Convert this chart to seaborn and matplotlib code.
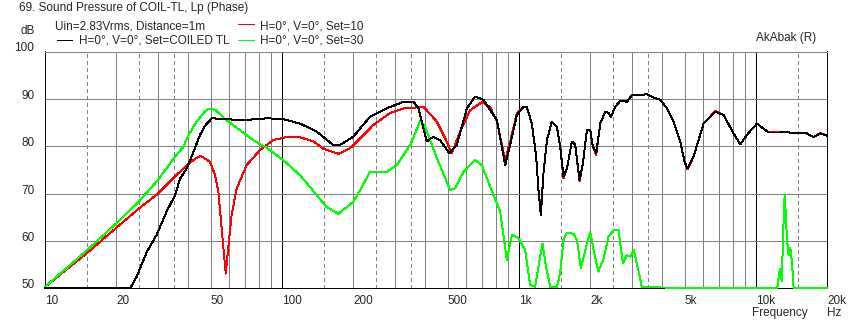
import matplotlib.pyplot as plt
import seaborn as sns
from matplotlib.lines import Line2D

# ---------------- data ----------------
black_f = [10, 22.9, 24.4, 26.9, 29.6, 32.6, 35.4, 37.2, 39.6, 42.3, 45.1, 47.3, 50.6, 58.4, 68.6,
           86.6, 101, 119, 140, 164, 176, 200, 214, 235, 277, 326, 359, 377, 408, 435, 464, 509,
           547, 603, 653, 708, 807, 875, 918, 980, 1045, 1079, 1133, 1182, 1208, 1237, 1269, 1312,
           1376, 1445, 1492, 1541, 1594, 1672, 1727, 1801, 1861, 1935, 1998, 2051, 2118, 2203, 2312,
           2388, 2443, 2547, 2675, 2855, 2997, 3248, 3467, 3700, 3950, 4210, 4490, 4713, 4791, 4997,
           5140, 5454, 6012, 6733, 7300, 8044, 8586, 9162, 10100, 11300, 12663, 13300, 14890, 16140,
           17500, 18680, 20000]
black_db = [50, 50, 52.5, 57.7, 61.3, 66.2, 69.7, 73.2, 75.3, 78.8, 82.4, 84.3, 85.9, 85.7, 85.5,
            85.9, 85.7, 84.8, 83.1, 80.3, 80.3, 82.0, 83.8, 86.2, 88.0, 89.4, 89.4, 88.0, 81.0, 82.0,
            81.3, 78.5, 80.3, 88.0, 90.5, 89.8, 85.5, 76.0, 80.3, 86.6, 88.3, 88.3, 84.8, 77.8, 70.8,
            65.5, 74.3, 81.3, 85.2, 84.1, 79.9, 73.6, 75.3, 81.0, 80.3, 72.9, 76.4, 83.4, 83.4, 79.9,
            78.5, 84.8, 87.3, 87.0, 86.2, 88.3, 89.6, 89.4, 90.8, 90.8, 91.0, 90.3, 89.8, 88.0, 85.2,
            82.0, 81.0, 76.7, 75.3, 77.8, 84.8, 87.3, 86.6, 82.7, 80.4, 82.4, 84.8, 82.9, 82.9, 83.0,
            82.7, 82.9, 81.9, 82.7, 82.2]

red_f = [10, 15, 20, 25, 30, 35, 38.4, 40, 44.4, 45.6, 49.7, 52.2, 53.9, 56.3, 57.9, 59.5, 61.3,
         64.4, 70.9, 80.8, 91.9, 104, 119, 136, 150, 173, 194, 214, 243, 286, 326, 396, 450, 488,
         520, 565, 622, 697, 755, 807, 875, 918, 980, 1045, 1079, 1133, 1182, 1208, 1237, 1269,
         1312, 1376, 1445, 1492, 1541, 1594, 1672, 1727, 1801, 1861, 1935, 1998, 2051, 2118, 2203,
         2312, 2388, 2443, 2547, 2675, 2855, 2997, 3248, 3467, 3700, 3950, 4210, 4490, 4713, 4791,
         4997, 5140, 5454, 6012, 6733, 7300, 8044, 8586, 9162, 10100, 11300, 12663, 13300, 14890,
         16140, 17500, 18680, 20000]
red_db = [50.3, 57.4, 62.8, 66.9, 70.0, 73.4, 75.3, 76.2, 77.8, 77.9, 76.7, 73.9, 70.4, 59.8, 53.1,
          59.2, 65.5, 71.1, 76.0, 79.2, 81.3, 81.9, 81.9, 81.0, 79.4, 78.4, 79.6, 81.7, 84.5, 87.0,
          88.0, 88.3, 85.2, 81.7, 78.5, 83.1, 87.6, 89.3, 88.3, 85.2, 77.1, 81.0, 87.0, 88.3, 88.3,
          84.8, 77.8, 70.8, 66.2, 74.3, 81.3, 85.2, 84.1, 79.9, 73.2, 75.3, 81.0, 80.3, 72.6, 76.4,
          83.4, 83.4, 79.9, 78.2, 84.8, 87.3, 87.0, 86.2, 88.3, 89.6, 89.4, 90.8, 90.8, 91.0, 90.3,
          89.8, 88.0, 85.2, 82.0, 81.0, 76.7, 75.1, 77.8, 84.8, 87.4, 86.6, 82.7, 80.4, 82.4, 84.8,
          82.9, 83.1, 83.0, 82.7, 82.9, 81.9, 82.8, 82.2]

green_f = [10, 15, 20, 25, 30, 35, 38.4, 40, 43.6, 47.3, 48.9, 52.2, 58.4, 66.4, 75.5, 86.6, 101,
           119, 138, 154, 173, 200, 214, 235, 277, 305, 348, 383, 402, 450, 512, 537, 584, 653, 697,
           780, 833, 889, 934, 995, 1062, 1115, 1169, 1208, 1257, 1300, 1355, 1445, 1492, 1541, 1594,
           1698, 1757, 1825, 1905, 1998, 2078, 2162, 2275, 2388, 2512, 2630, 2745, 2855, 2949, 3045,
           3165, 3303, 12300, 12600, 12850, 13040, 13210, 13340, 13520, 13730, 13960, 14190, 14420,
           20000]
green_db = [50.3, 58.0, 63.7, 68.4, 72.9, 77.5, 79.9, 82.0, 85.2, 87.3, 87.9, 87.7, 85.5, 83.4,
            81.3, 79.6, 77.1, 73.9, 70.1, 67.2, 65.7, 68.3, 70.8, 74.6, 74.6, 76.0, 80.3, 85.3, 84.1,
            77.5, 70.8, 71.1, 74.6, 77.1, 76.0, 69.7, 66.2, 56.0, 61.3, 60.6, 58.1, 50.7, 50.3, 54.6,
            59.4, 54.6, 50.3, 50.3, 53.2, 60.2, 61.7, 61.5, 60.2, 54.2, 58.1, 62.0, 57.4, 53.5, 56.3,
            60.9, 62.3, 62.3, 55.3, 57.0, 56.7, 58.1, 54.6, 50.2, 50, 54.0, 51.5, 62.3, 69.7, 66.2,
            60.2, 57.0, 58.5, 55.5, 50, 50]

xticks = [10, 20, 50, 100, 200, 500, 1000, 2000, 5000, 10000, 20000]
xtick_labels = ['10', '20', '50', '100', '200', '500', '1k', '2k', '5k', '10k', '20k']
yticks = [50, 60, 70, 80, 90, 100]

# ------------------------------------------------------------------
sns.set_style('white')
plt.rcParams['font.family'] = ['Liberation Sans', 'DejaVu Sans']
plt.rcParams['font.size'] = 8.5
FS = 8.5
LW = 0.7  # ~1 px, drawn without antialiasing like the original

W, H = 854, 325
fig = plt.figure(figsize=(W / 100, H / 100), dpi=100)
ax = fig.add_axes([45 / W, 1 - 288.3 / H, (827.3 - 45) / W, (288.3 - 51.5) / H])
ax.set_xscale('log')
ax.set_xlim(10, 20000)
ax.set_ylim(50, 100)

# grid like AkAbak: solid at 2..9, dashed at 1.5/2.5/3.5, black at decades
for dec in [10, 100, 1000, 10000]:
    for m in [2, 3, 4, 5, 6, 7, 8, 9]:
        if dec * m < 20000:
            ax.axvline(dec * m, color='#808080', lw=LW, zorder=1, antialiased=False)
    for m in [1.5, 2.5, 3.5]:
        ax.axvline(dec * m, color='#808080', lw=LW, ls=(0, (4, 4)), zorder=1, antialiased=False)
    if dec > 10:
        ax.axvline(dec, color='black', lw=LW, zorder=1, antialiased=False)
for v in [60, 70, 80, 90]:
    ax.axhline(v, color='#808080', lw=LW, zorder=1, antialiased=False)

sns.lineplot(x=red_f, y=red_db, ax=ax, color='#ff0000', lw=LW, estimator=None, sort=False,
             zorder=3, clip_on=False, antialiased=False)
sns.lineplot(x=green_f, y=green_db, ax=ax, color='#00ff00', lw=LW, estimator=None, sort=False,
             zorder=3, clip_on=False, antialiased=False)
sns.lineplot(x=black_f, y=black_db, ax=ax, color='black', lw=LW, estimator=None, sort=False,
             zorder=4, clip_on=False, antialiased=False)

for s in ['left', 'bottom', 'right']:
    ax.spines[s].set_color('black')
    ax.spines[s].set_linewidth(LW)
ax.spines['top'].set_color('#808080')
ax.spines['top'].set_linewidth(LW)

ax.set_xticks(xticks)
ax.set_xticklabels(xtick_labels, ha='left')
ax.minorticks_off()
ax.set_yticks(yticks)
ax.set_yticklabels([str(v) for v in yticks])
ax.tick_params(axis='x', length=2.5, width=LW, color='black', pad=2.5, labelsize=FS)
ax.tick_params(axis='y', length=2.2, width=LW, color='black', pad=5.5, labelsize=FS)
for lab in ax.get_yticklabels():
    lab.set_verticalalignment('baseline')
ax.set_xlabel('')
ax.set_ylabel('')


def px(x, y):
    return x / W, 1 - y / H


fig.text(*px(19, 11), '69. Sound Pressure of COIL-TL, Lp (Phase)', va='baseline', fontsize=FS)
fig.text(*px(55, 29.3), 'Uin=2.83Vrms, Distance=1m', va='baseline', fontsize=FS)
fig.text(*px(35, 34.3), 'dB', va='baseline', ha='right', fontsize=FS)
fig.text(*px(79, 43.7), 'H=0°, V=0°, Set=COILED TL', va='baseline', fontsize=FS)
fig.text(*px(260, 29.3), 'H=0°, V=0°, Set=10', va='baseline', fontsize=FS)
fig.text(*px(260, 43.7), 'H=0°, V=0°, Set=30', va='baseline', fontsize=FS)
fig.text(*px(756, 40.7), 'AkAbak (R)', va='baseline', fontsize=FS)
fig.text(*px(752, 316), 'Frequency', va='baseline', fontsize=FS)
fig.text(*px(827, 316), 'Hz', va='baseline', fontsize=FS)

for (x0, x1, y, c) in [(57, 72, 40, 'black'), (238, 254, 24.3, '#ff0000'), (238, 254, 40, '#00ff00')]:
    fig.add_artist(Line2D([x0 / W, x1 / W], [1 - y / H, 1 - y / H], color=c, lw=LW,
                          antialiased=False))

plt.savefig('out.png', dpi=100, facecolor='white')
